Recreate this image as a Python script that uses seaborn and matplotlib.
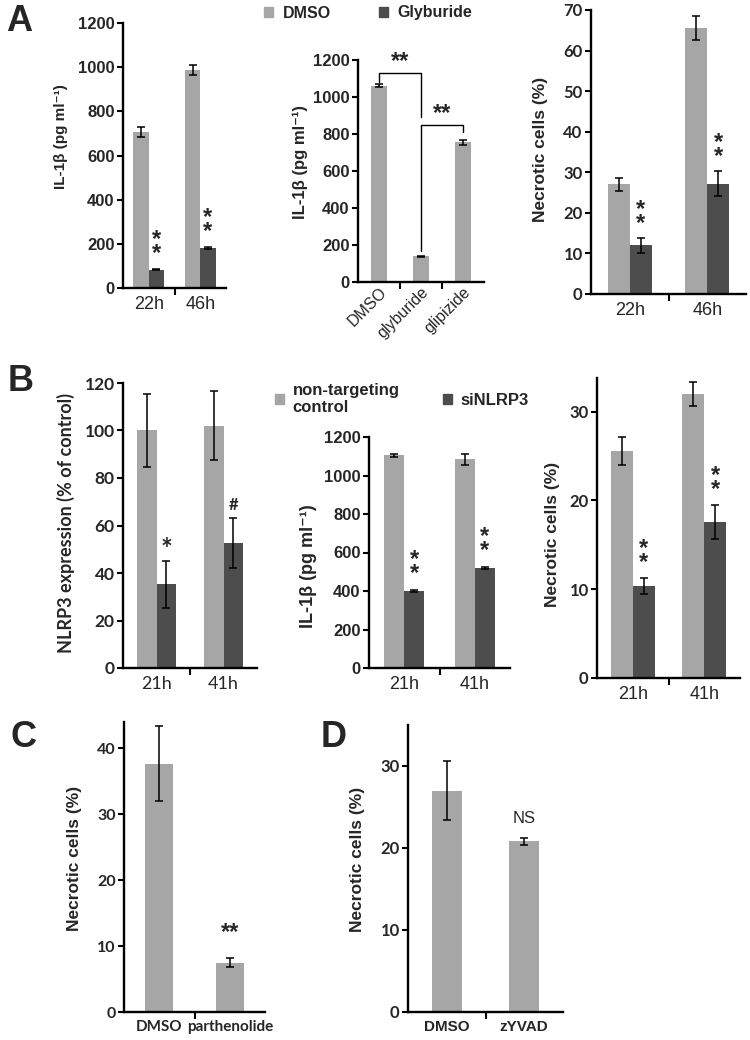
import numpy as np
import pandas as pd
import matplotlib
matplotlib.use("Agg")
import matplotlib.pyplot as plt
import seaborn as sns
from matplotlib.ticker import FixedLocator

# ---------------- data ----------------
a_times = ["22h", "46h"]
a_groups = ["DMSO", "Glyburide"]
a1_dmso = [705, 987]
a1_dmso_err = [22, 21]
a1_gly = [82, 181]
a1_gly_err = [2, 4]

a2_cats = ["DMSO", "glyburide", "glipizide"]
a2_vals = [1062, 138, 756]
a2_err = [7, 3, 13]

a3_dmso = [27.0, 65.5]
a3_dmso_err = [1.6, 2.9]
a3_gly = [12.0, 27.2]
a3_gly_err = [1.8, 3.1]

b_times = ["21h", "41h"]
b_groups = ["non-targeting\ncontrol", "siNLRP3"]
b1_ctrl = [100.0, 102.0]
b1_ctrl_err = [15.5, 14.6]
b1_si = [35.2, 52.6]
b1_si_err = [10.0, 10.7]

b2_ctrl = [1105, 1085]
b2_ctrl_err = [8, 28]
b2_si = [400, 520]
b2_si_err = [5, 6]

b3_ctrl = [25.6, 32.0]
b3_ctrl_err = [1.55, 1.35]
b3_si = [10.4, 17.6]
b3_si_err = [0.9, 1.9]

c_cats = ["DMSO", "parthenolide"]
c_vals = [37.7, 7.5]
c_err = [5.7, 0.65]

d_cats = ["DMSO", "zYVAD"]
d_vals = [27.0, 20.8]
d_err = [3.6, 0.45]

LIGHT = "#A6A6A6"
DARK = "#4D4D4D"
ARIAL = ["Liberation Sans", "DejaVu Sans"]
CALIB = ["Lato", "DejaVu Sans"]

sns.set_style("ticks")
plt.rcParams["font.family"] = ARIAL

W, H = 750, 1040
fig = plt.figure(figsize=(7.5, 10.4), dpi=100)


def px_axes(x0, x1, ytop, ybot):
    return fig.add_axes([x0 / W, 1 - ybot / H, (x1 - x0) / W, (ybot - ytop) / H])


def add_err(ax, errs_list):
    centers = []
    for cont, errs in zip(ax.containers, errs_list):
        row = []
        for bar, e in zip(cont, errs):
            x = bar.get_x() + bar.get_width() / 2
            y = bar.get_height()
            ax.errorbar(x, y, yerr=e, fmt="none", ecolor="black",
                        elinewidth=1.1, capsize=2.8, capthick=1.1, zorder=5)
            row.append((x, y + e))
        centers.append(row)
    return centers


def grouped(ax, times, groups, v1, e1, v2, e2, width):
    df = pd.DataFrame({
        "time": list(times) * 2,
        "group": [groups[0]] * len(times) + [groups[1]] * len(times),
        "value": list(v1) + list(v2),
    })
    sns.barplot(data=df, x="time", y="value", hue="group", order=times,
                hue_order=groups, palette=[LIGHT, DARK], width=width,
                saturation=1, errorbar=None, linewidth=0, ax=ax, legend=False)
    return add_err(ax, [e1, e2])


def single(ax, cats, vals, errs, width):
    df = pd.DataFrame({"cat": cats, "value": vals})
    sns.barplot(data=df, x="cat", y="value", order=cats, color=LIGHT,
                width=width, saturation=1, errorbar=None, linewidth=0, ax=ax)
    return add_err(ax, [errs])


def style(ax, ylim, yticks, n, yfam, ysize, xfam, xsize, xweight, ylabel,
          lfam, lsize, lx, ly):
    ax.set_xlim(-0.5, n - 0.5)
    ax.set_ylim(*ylim)
    ax.set_yticks(yticks)
    sns.despine(ax=ax)
    for s in ["left", "bottom"]:
        ax.spines[s].set_linewidth(1.7)
        ax.spines[s].set_color("black")
    ax.xaxis.set_minor_locator(FixedLocator(np.arange(0.5, n - 0.5)))
    ax.tick_params(axis="x", which="major", length=0, pad=6)
    ax.tick_params(axis="x", which="minor", length=5, width=1.5,
                   direction="out", color="black")
    ax.tick_params(axis="y", length=4, width=1.5, direction="out",
                   color="black", pad=2)
    ax.set_xlabel("")
    for t in ax.get_yticklabels():
        t.set_fontfamily(yfam)
        t.set_fontsize(ysize)
        t.set_fontweight("bold")
    for t in ax.get_xticklabels():
        t.set_fontfamily(xfam)
        t.set_fontsize(xsize)
        t.set_fontweight(xweight)
    ax.set_ylabel(ylabel, fontfamily=lfam, fontsize=lsize, fontweight="bold")
    ax.yaxis.set_label_coords(lx, ly)


def stars(ax, x, y, size=17):
    ax.text(x, y, "*\n*", ha="center", va="bottom", fontsize=size,
            fontweight="bold", linespacing=0.5)


IL = "IL-1\u03b2 (pg ml\u207b\u00b9)"

# ---------------- Panel A left ----------------
ax = px_axes(123, 226, 23, 288)
c = grouped(ax, a_times, a_groups, a1_dmso, a1_dmso_err, a1_gly, a1_gly_err, 0.6)
style(ax, (0, 1200), range(0, 1201, 200), 2, ARIAL, 12, ARIAL, 13, "normal",
      IL, ARIAL, 11, -0.53, 0.57)
for (x, top) in c[1]:
    stars(ax, x, top + 18)

# legend A
handles = [plt.Rectangle((0, 0), 1, 1, color=LIGHT), plt.Rectangle((0, 0), 1, 1, color=DARK)]
fig.legend(handles, a_groups, loc="center left",
           bbox_to_anchor=(250 / W, 1 - 13 / H), ncol=2, frameon=False,
           handlelength=0.55, handleheight=0.55, handletextpad=0.6,
           columnspacing=3.0, prop={"family": ARIAL, "weight": "bold", "size": 11.5})

# ---------------- Panel A middle ----------------
ax = px_axes(358, 484, 60, 282)
c = single(ax, a2_cats, a2_vals, a2_err, 0.4)
style(ax, (0, 1200), range(0, 1201, 200), 3, ARIAL, 12, ARIAL, 11.5, "normal",
      IL, ARIAL, 12, -0.40, 0.54)
for t in ax.get_xticklabels():
    t.set_rotation(45)
    t.set_ha("right")
    t.set_rotation_mode("anchor")
ax.tick_params(axis="x", which="major", pad=2)
x0, x1, x2 = c[0][0][0], c[0][1][0], c[0][2][0]
ax.plot([x0, x0, x1, x1], [1083, 1131, 1131, 894], color="black", lw=1, clip_on=False)
ax.plot([x1, x1, x2, x2], [165, 849, 849, 812], color="black", lw=1, clip_on=False)
ax.text((x0 + x1) / 2, 1130, "**", ha="center", va="bottom", fontsize=17, fontweight="bold")
ax.text((x1 + x2) / 2, 848, "**", ha="center", va="bottom", fontsize=17, fontweight="bold")

# ---------------- Panel A right ----------------
ax = px_axes(591, 746, 10, 294)
c = grouped(ax, a_times, a_groups, a3_dmso, a3_dmso_err, a3_gly, a3_gly_err, 0.57)
style(ax, (0, 70), range(0, 71, 10), 2, CALIB, 12, ARIAL, 13, "normal",
      "Necrotic cells (%)", ARIAL, 12.5, -0.28, 0.51)
for (x, top) in c[1]:
    stars(ax, x, top + 0.8)

# ---------------- Panel B left ----------------
ax = px_axes(123, 257, 383, 668)
c = grouped(ax, b_times, b_groups, b1_ctrl, b1_ctrl_err, b1_si, b1_si_err, 0.57)
style(ax, (0, 120), range(0, 121, 20), 2, CALIB, 12.5, CALIB, 13, "normal",
      "NLRP3 expression (% of control)", CALIB, 13, -0.36, 0.51)
ax.text(c[1][0][0], c[1][0][1] - 1.0, "*", ha="center", va="bottom",
        fontsize=20, fontweight="bold", family=CALIB)
ax.text(c[1][1][0], c[1][1][1] + 2.0, "#", ha="center", va="bottom",
        fontsize=12, fontweight="bold", family=CALIB)

# legend B
fig.legend(handles, b_groups, loc="center left",
           bbox_to_anchor=(260 / W, 1 - 399 / H), ncol=2, frameon=False,
           handlelength=0.55, handleheight=0.55, handletextpad=0.5,
           columnspacing=2.6, labelspacing=0.1,
           prop={"family": ARIAL, "weight": "bold", "size": 12})

# ---------------- Panel B middle ----------------
ax = px_axes(369, 510, 437, 668)
c = grouped(ax, b_times, b_groups, b2_ctrl, b2_ctrl_err, b2_si, b2_si_err, 0.57)
style(ax, (0, 1200), range(0, 1201, 200), 2, ARIAL, 12, ARIAL, 13, "normal",
      IL, ARIAL, 13, -0.37, 0.44)
for (x, top) in c[1]:
    stars(ax, x, top + 25)

# ---------------- Panel B right ----------------
ax = px_axes(597, 740, 378, 678)
c = grouped(ax, b_times, b_groups, b3_ctrl, b3_ctrl_err, b3_si, b3_si_err, 0.61)
style(ax, (0, 33.8), [0, 10, 20, 30], 2, CALIB, 12, ARIAL, 13, "normal",
      "Necrotic cells (%)", ARIAL, 12.5, -0.26, 0.48)
for (x, top) in c[1]:
    stars(ax, x, top + 0.4)

# ---------------- Panel C ----------------
ax = px_axes(124, 265, 722, 1012)
c = single(ax, c_cats, c_vals, c_err, 0.4)
style(ax, (0, 44), range(0, 41, 10), 2, CALIB, 11.5, CALIB, 11, "bold",
      "Necrotic cells (%)", ARIAL, 12.5, -0.30, 0.53)
ax.text(c[0][1][0], c[0][1][1] + 2.2, "**", ha="center", va="bottom",
        fontsize=17, fontweight="bold")

# ---------------- Panel D ----------------
ax = px_axes(408, 563, 725, 1012)
c = single(ax, d_cats, d_vals, d_err, 0.39)
style(ax, (0, 35), range(0, 31, 10), 2, CALIB, 12, ARIAL, 11, "bold",
      "Necrotic cells (%)", ARIAL, 12.5, -0.28, 0.53)
ax.text(c[0][1][0], c[0][1][1] + 1.4, "NS", ha="center", va="bottom",
        fontsize=12)

# ---------------- panel letters ----------------
for lab, x, y in [("A", 6, 4), ("B", 8, 364), ("C", 11, 720), ("D", 321, 720)]:
    fig.text(x / W, 1 - y / H, lab, fontsize=26, fontweight="bold",
             family=ARIAL, va="top", ha="left")

fig.savefig("out.png", dpi=100, facecolor="white")
